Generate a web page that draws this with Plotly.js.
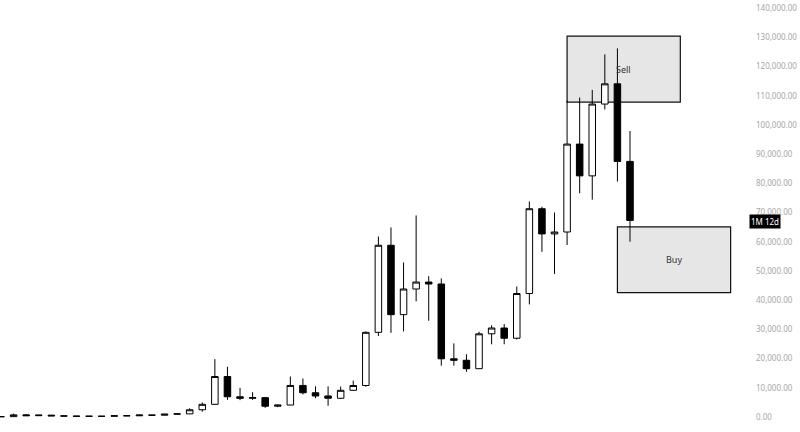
<!DOCTYPE html>
<html>
<head>
<meta charset="utf-8">
<script src="https://cdn.plot.ly/plotly-3.0.1.min.js"></script>
<style>
  html, body { margin: 0; padding: 0; background: #ffffff; }
  #chart { width: 800px; height: 432px; }
</style>
</head>
<body>
<div id="chart"></div>
<script>
// Quarterly BTC/USD candles, Q3 2013 - Q1 2026
const quarters = [
  "2013 Q3","2013 Q4",
  "2014 Q1","2014 Q2","2014 Q3","2014 Q4",
  "2015 Q1","2015 Q2","2015 Q3","2015 Q4",
  "2016 Q1","2016 Q2","2016 Q3","2016 Q4",
  "2017 Q1","2017 Q2","2017 Q3","2017 Q4",
  "2018 Q1","2018 Q2","2018 Q3","2018 Q4",
  "2019 Q1","2019 Q2","2019 Q3","2019 Q4",
  "2020 Q1","2020 Q2","2020 Q3","2020 Q4",
  "2021 Q1","2021 Q2","2021 Q3","2021 Q4",
  "2022 Q1","2022 Q2","2022 Q3","2022 Q4",
  "2023 Q1","2023 Q2","2023 Q3","2023 Q4",
  "2024 Q1","2024 Q2","2024 Q3","2024 Q4",
  "2025 Q1","2025 Q2","2025 Q3","2025 Q4",
  "2026 Q1"
];
const openVals = [
  88, 123,
  732, 450, 640, 386,
  320, 244, 263, 236,
  430, 416, 670, 610,
  964, 1080, 2480, 4340,
  13850, 6930, 6390, 6630,
  3690, 4100, 10800, 8300,
  7200, 6420, 9140, 10780,
  28990, 58800, 35040, 43820,
  46200, 45530, 19930, 19420,
  16540, 28480, 30470, 26970,
  42270, 71300, 62680, 63330,
  93430, 82550, 107140, 114060,
  87500
];
const highVals = [
  148, 1163,
  1000, 680, 660, 455,
  320, 265, 318, 503,
  463, 780, 690, 980,
  1300, 3000, 5000, 19800,
  17200, 9990, 8490, 6800,
  4200, 13880, 13200, 10500,
  10500, 10430, 12470, 29300,
  61800, 64900, 52900, 69000,
  48200, 47450, 25200, 21480,
  29190, 31430, 31820, 44700,
  73780, 72000, 70000, 108350,
  109360, 111980, 124130, 126200,
  97900
];
const lowVals = [
  65, 118,
  410, 340, 350, 275,
  152, 214, 199, 235,
  350, 412, 470, 600,
  880, 1060, 1830, 4100,
  5880, 5770, 5860, 3120,
  3350, 4050, 7700, 6430,
  3850, 6150, 8950, 10370,
  27700, 28800, 29300, 39600,
  32950, 17570, 17600, 15480,
  16500, 24890, 24900, 26540,
  38550, 56550, 49000, 58870,
  76600, 74400, 105300, 80600,
  60000
];
const closeVals = [
  123, 732,
  450, 640, 386, 320,
  244, 263, 236, 430,
  416, 670, 610, 964,
  1080, 2480, 4340, 13850,
  6930, 6390, 6630, 3690,
  4100, 10800, 8300, 7200,
  6420, 9140, 10780, 28990,
  58800, 35040, 43820, 46200,
  45530, 19930, 19420, 16540,
  28480, 30470, 26970, 42270,
  71300, 62680, 63330, 93430,
  82550, 107140, 114060, 87500,
  67300
];

// Price-scale ticks
const yTicks = [0, 10000, 20000, 30000, 40000, 50000, 60000, 70000,
                80000, 90000, 100000, 110000, 120000, 130000, 140000];

// Zones: [x0 index, x1 index, y0, y1]
const sellZone = { label: "Sell", x0: 45, x1: 54, y0: 107800, y1: 130400 };
const buyZone  = { label: "Buy",  x0: 49, x1: 58, y0: 42600,  y1: 65100 };
const countdownText = "1M 12d";
const countdownLevel = 67100;

const trace = {
  type: "candlestick",
  x: quarters,
  open: openVals,
  high: highVals,
  low: lowVals,
  close: closeVals,
  increasing: { fillcolor: "#ffffff", line: { color: "#000000", width: 1 } },
  decreasing: { fillcolor: "#000000", line: { color: "#000000", width: 1 } },
  whiskerwidth: 0,
  showlegend: false,
  hoverinfo: "skip"
};

function zoneShape(z) {
  return {
    type: "rect", xref: "x", yref: "y",
    x0: z.x0, x1: z.x1, y0: z.y0, y1: z.y1,
    fillcolor: "#e6e6e6",
    line: { color: "#111111", width: 1.2 },
    layer: "below"
  };
}
function zoneLabel(z) {
  return {
    xref: "x", yref: "y",
    x: (z.x0 + z.x1) / 2, y: (z.y0 + z.y1) / 2,
    text: z.label, showarrow: false,
    font: { family: "Noto Sans, sans-serif", size: 9, color: "#333333" }
  };
}

const layout = {
  width: 800, height: 432,
  margin: { l: 0, r: 50, t: 0, b: 0 },
  paper_bgcolor: "#ffffff",
  plot_bgcolor: "#ffffff",
  showlegend: false,
  boxgap: 0.26,
  xaxis: {
    type: "category",
    range: [-0.08, 59.54],
    showticklabels: false, showgrid: false, zeroline: false,
    showline: false, ticks: "",
    rangeslider: { visible: false },
    fixedrange: true
  },
  yaxis: {
    side: "right",
    range: [-5135, 142760],
    tickvals: yTicks,
    tickformat: ",.2f",
    showgrid: false, zeroline: false, showline: false, ticks: "",
    ticklabelstandoff: 5,
    tickfont: { family: "Noto Sans, sans-serif", size: 8, color: "#a6a6a6" },
    fixedrange: true
  },
  shapes: [zoneShape(sellZone), zoneShape(buyZone)],
  annotations: [
    zoneLabel(sellZone),
    zoneLabel(buyZone),
    {
      xref: "paper", yref: "y",
      x: 749 / 750, y: countdownLevel,
      xanchor: "left", yanchor: "middle",
      text: countdownText, showarrow: false,
      bgcolor: "#000000", borderpad: 1,
      font: { family: "Noto Sans, sans-serif", size: 8, color: "#ffffff" }
    }
  ]
};

Plotly.newPlot("chart", [trace], layout, { displayModeBar: false, staticPlot: true });
</script>
</body>
</html>
